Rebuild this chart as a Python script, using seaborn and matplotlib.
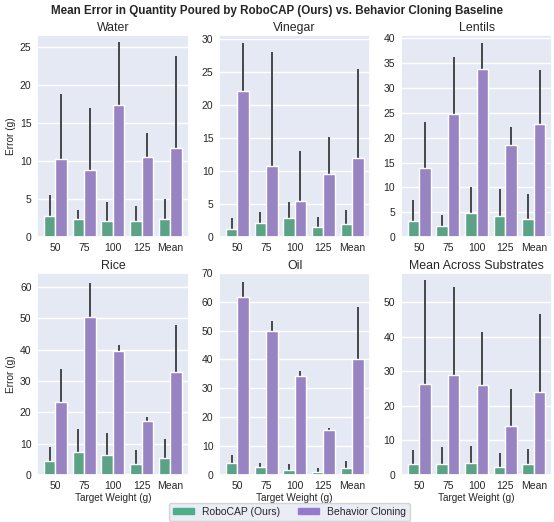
import numpy as np
import pandas as pd
import matplotlib
matplotlib.use("Agg")
import matplotlib.pyplot as plt
import seaborn as sns

weights = ["50", "75", "100", "125", "Mean"]
methods = ["RoboCAP (Ours)", "Behavior Cloning"]
substrates = ["Water", "Vinegar", "Lentils", "Rice", "Oil", "Mean Across Substrates"]

# mean error (g) per target weight, and its spread
robocap_mean = {
    "Water":   [2.8, 2.4, 2.2, 2.1, 2.4],
    "Vinegar": [1.2, 2.2, 2.9, 1.6, 2.0],
    "Lentils": [3.2, 2.3, 4.8, 4.3, 3.7],
    "Rice":    [4.4, 7.3, 6.5, 3.4, 5.4],
    "Oil":     [4.1, 2.7, 1.8, 1.1, 2.4],
    "Mean Across Substrates": [3.1, 3.3, 3.6, 2.4, 3.1],
}
robocap_err = {
    "Water":   [2.8, 1.2, 2.4, 2.0, 2.7],
    "Vinegar": [1.7, 1.6, 2.5, 1.4, 2.1],
    "Lentils": [4.2, 2.1, 5.3, 5.3, 4.9],
    "Rice":    [4.6, 7.3, 7.0, 4.7, 6.1],
    "Oil":     [2.9, 1.5, 2.0, 1.3, 2.6],
    "Mean Across Substrates": [4.2, 4.7, 4.8, 3.9, 4.4],
}
bc_mean = {
    "Water":   [10.3, 8.8, 17.4, 10.6, 11.8],
    "Vinegar": [22.2, 10.8, 5.5, 9.5, 12.0],
    "Lentils": [13.9, 24.7, 33.8, 18.6, 22.7],
    "Rice":    [23.4, 50.5, 39.6, 17.3, 32.7],
    "Oil":     [61.6, 50.0, 34.1, 15.5, 40.3],
    "Mean Across Substrates": [26.2, 29.0, 26.1, 14.3, 23.9],
}
bc_err = {
    "Water":   [8.6, 8.2, 8.3, 3.1, 12.1],
    "Vinegar": [7.2, 17.2, 7.5, 5.6, 13.4],
    "Lentils": [9.2, 11.4, 5.1, 3.6, 10.9],
    "Rice":    [10.3, 10.7, 1.9, 1.1, 15.2],
    "Oil":     [5.2, 3.2, 1.9, 0.8, 17.8],
    "Mean Across Substrates": [30.3, 25.4, 15.3, 10.7, 22.8],
}

colors = {"RoboCAP (Ours)": "#4FAE8A", "Behavior Cloning": "#9479CD"}

sns.set_theme(style="darkgrid", rc={"axes.facecolor": "#E5E9F4"})
plt.rcParams["font.family"] = ["Liberation Sans", "DejaVu Sans"]

fig, axes = plt.subplots(2, 3, figsize=(5.54, 5.22), dpi=100)
fig.subplots_adjust(left=0.067, right=0.997, top=0.933, bottom=0.09,
                    wspace=0.2, hspace=0.175)

for ax, sub in zip(axes.flat, substrates):
    df = pd.DataFrame({
        "weight": weights * 2,
        "method": [methods[0]] * 5 + [methods[1]] * 5,
        "error": robocap_mean[sub] + bc_mean[sub],
        "err": robocap_err[sub] + bc_err[sub],
    })
    sns.barplot(data=df, x="weight", y="error", hue="method", order=weights,
                hue_order=methods, palette=colors, errorbar=None,
                edgecolor="white", linewidth=1.0, ax=ax, legend=False, zorder=2)
    # error bars sit behind the bars, so only the upper part shows
    for cont, m in zip(ax.containers, methods):
        sel = df[df["method"] == m]
        xs = [p.get_x() + p.get_width() / 2 for p in cont.patches]
        ax.vlines(xs, sel["error"] - sel["err"], sel["error"] + sel["err"],
                  color="#3a3a3a", linewidth=1.3, zorder=1)
    ax.set_title(sub, fontsize=8.9, pad=3)
    ax.set_ylim(bottom=0)
    ax.tick_params(labelsize=7.5, length=0, pad=4)
    ax.set_xlabel("")
    ax.set_ylabel("")

for ax in axes[:, 0]:
    ax.set_ylabel("Error (g)", fontsize=7.3, labelpad=3)
for ax in axes[1, :]:
    ax.set_xlabel("Target Weight (g)", fontsize=7.2, labelpad=2)

axes[0, 0].set_yticks([0, 5, 10, 15, 20, 25])
axes[0, 0].set_ylim(0, 26.6)
axes[0, 1].set_ylim(0, 30.6)
axes[0, 2].set_ylim(0, 40.6)
axes[1, 0].set_ylim(0, 64.5)
axes[1, 1].set_ylim(0, 70)
axes[1, 2].set_ylim(0, 58.5)

handles = [plt.Rectangle((0, 0), 1, 1, color=colors[m]) for m in methods]
fig.legend(handles, methods, loc="lower center", ncol=2, fontsize=7.5,
           bbox_to_anchor=(0.523, -0.008), frameon=True, handlelength=2.0,
           handleheight=0.6, columnspacing=1.7, borderpad=0.4)

fig.suptitle("Mean Error in Quantity Poured by RoboCAP (Ours) vs. Behavior Cloning Baseline",
             fontsize=8.4, fontweight="bold", y=0.99)

fig.savefig("out.png", dpi=100)
